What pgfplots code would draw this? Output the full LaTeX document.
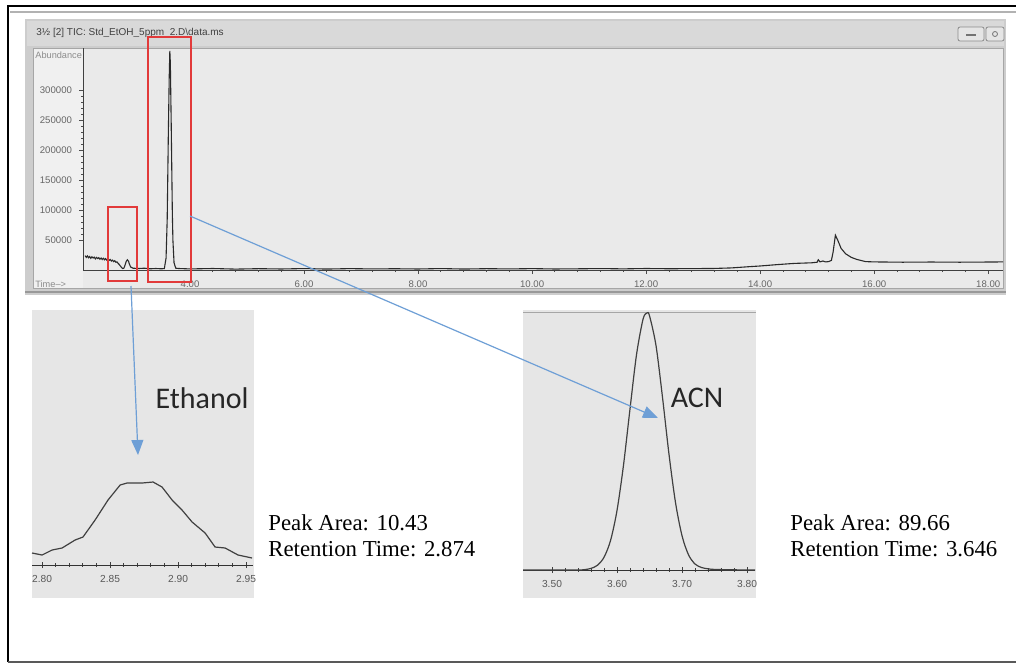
\documentclass[border=0pt]{standalone}
\usepackage{fontspec}
\setmainfont{Liberation Serif}
\setsansfont{Liberation Sans}
\newfontfamily\calibri{Carlito}
\usepackage{pgfplots}
\pgfplotsset{compat=1.18}
\usetikzlibrary{arrows.meta}

\definecolor{winframe}{HTML}{CDCDCD}
\definecolor{titlebar}{HTML}{D9D9D9}
\definecolor{labelpanel}{HTML}{F0F0F0}
\definecolor{plotpanel}{HTML}{EAEAEA}
\definecolor{insetbg}{HTML}{E6E6E6}
\definecolor{boxred}{HTML}{E23A3A}
\definecolor{arrowblue}{HTML}{6E9FD6}
\definecolor{trace}{HTML}{2A2A2A}

% main chromatogram (time in min, abundance)
\pgfplotstableread{
t y
2.16 24000
2.18 21000
2.20 23500
2.22 20500
2.24 22500
2.26 19500
2.28 22000
2.30 20000
2.32 21500
2.34 18500
2.36 21000
2.38 19000
2.40 20500
2.42 18000
2.44 20000
2.46 17500
2.48 19500
2.50 17000
2.52 19000
2.54 16500
2.56 18500
2.58 16000
2.60 17500
2.62 15000
2.64 16500
2.66 14000
2.68 15500
2.70 13000
2.72 13500
2.74 11000
2.76 9000
2.78 6500
2.80 4000
2.82 2500
2.84 3000
2.86 8000
2.88 14000
2.90 17000
2.92 15000
2.94 9000
2.96 5000
3.00 3000
3.10 2500
3.20 3000
3.30 2000
3.40 2500
3.50 2000
3.55 2500
3.58 20000
3.60 85000
3.62 228000
3.635 320000
3.646 365000
3.655 345000
3.67 245000
3.69 95000
3.70 50000
3.72 12000
3.75 3000
3.80 2500
4.0 1800
4.4 2500
4.8 1500
5.2 2200
5.6 1700
6.0 2400
6.4 1600
6.8 2300
7.2 1800
7.6 2100
8.0 1700
8.4 2400
8.8 1600
9.2 2200
9.6 1800
10.0 2300
10.4 1700
10.8 2000
11.2 2400
11.6 1900
12.0 2500
12.4 2100
12.8 2300
13.2 2600
13.5 3500
13.8 5500
14.0 6700
14.3 9000
14.6 11000
14.9 12000
15.0 13000
15.02 17000
15.05 13500
15.10 15000
15.15 13500
15.20 14000
15.25 16000
15.28 30000
15.32 58000
15.36 50000
15.42 36000
15.50 27000
15.60 21000
15.70 17500
15.85 14000
16.0 13500
16.5 13000
17.0 13300
17.5 13000
18.0 13300
18.26 13500
}\tic

% ethanol peak (zoom)
\pgfplotstableread{
t y
2.7926 12
2.8000 10
2.8074 15
2.8147 17
2.8243 25
2.8301 28
2.8390 45
2.8485 65
2.8574 80
2.8625 82
2.8735 82
2.8816 83
2.8882 78
2.8956 65
2.9029 55
2.9103 43
2.9199 32
2.9272 18
2.9346 17
2.9441 10
2.9544 7
}\ethanol

% ACN peak (zoom)
\pgfplotstableread{
t y
3.4554 0
3.50 0
3.54 0
3.55 0.4
3.56 1.6
3.57 4.8
3.58 12.7
3.59 29.4
3.60 59.5
3.61 104.9
3.62 161.1
3.63 215.3
3.64 250.7
3.646 257
3.65 254.2
3.66 224.4
3.67 172.6
3.68 115.6
3.69 67.4
3.70 34.3
3.71 15.2
3.72 6.0
3.73 2.5
3.74 1.2
3.75 0.6
3.78 0.2
3.8123 0
}\acn

\pgfplotsset{
  inset/.style={
    anchor=south west, scale only axis,
    ymin=0,
    axis x line*=bottom, axis y line=none,
    axis line style={draw=black!80, line width=0.5pt},
    minor x tick num=4,
    tick align=center, major tick length=3pt, minor tick length=1.6pt,
    tick style={black!75, line width=0.4pt},
    xticklabel style={font=\sffamily\fontsize{5.1}{6}\selectfont, text=black!65},
    clip=false,
  }
}

\begin{document}
\begin{tikzpicture}
\begin{scope}[x=0.5pt,y=-0.5pt]
\useasboundingbox (0,0) rectangle (1016,665);
\fill[white] (0,0) rectangle (1016,665);
% outer frame
\draw[line width=0.6pt, black!30] (10,12) -- (1016,12);
\draw[line width=1.1pt, black] (8,662) -- (8,6) -- (1016,6);
\draw[line width=1.1pt, black!65] (8,662) -- (1016,662);
% window
\fill[winframe] (25,19) rectangle (1006,295);
\fill[titlebar] (27,21) rectangle (1004,46);
\fill[labelpanel] (33,48) rectangle (83,288);
\fill[plotpanel] (83,48) rectangle (1003,288);
\draw[black!35, line width=0.4pt] (33,48) rectangle (1003,288);
\draw[black!40, line width=0.6pt] (25,292) -- (1006,292);
% window buttons
\draw[black!45, fill=black!10, rounded corners=1pt] (958,27) rectangle (984,41);
\draw[black!55, line width=0.6pt] (966,35) -- (976,35);
\draw[black!45, fill=black!10, rounded corners=1pt] (986,27) rectangle (1004,41);
\draw[black!55] (995,34) circle (2.5);
\node[anchor=west, inner sep=0, text=black!75, font=\sffamily\fontsize{5}{6}\selectfont] at (36,33)
  {3½ [2] TIC: Std\_EtOH\_5ppm\_2.D\textbackslash data.ms};
\node[anchor=west, inner sep=0, text=black!45, font=\sffamily\fontsize{4.6}{5}\selectfont] at (35,55) {Abundance};
\node[anchor=west, inner sep=0, text=black!45, font=\sffamily\fontsize{4.6}{5}\selectfont] at (35,284) {Time-->};
% inset backgrounds
\fill[insetbg] (32,310) rectangle (254,598);
\fill[insetbg] (523,310) rectangle (756,598);
\draw[black!35, line width=0.5pt] (523,312) -- (756,312);
\end{scope}

% main chromatogram
\begin{axis}[
  at={(41.5pt,-135pt)}, anchor=south west,
  scale only axis, width=460pt, height=111pt,
  xmin=2.123, xmax=18.26, ymin=0, ymax=370000,
  axis x line*=bottom, axis y line*=left,
  axis line style={draw=black!75, line width=0.4pt},
  xtick={4,6,8,10,12,14,16,18},
  xticklabels={4.00,6.00,8.00,10.00,12.00,14.00,16.00,18.00},
  minor x tick num=4,
  ytick={50000,100000,150000,200000,250000,300000},
  yticklabels={50000,100000,150000,200000,250000,300000},
  minor y tick num=4,
  scaled y ticks=false,
  tick align=outside, major tick length=2pt, minor tick length=1pt,
  tick style={black!70, line width=0.4pt},
  ticklabel style={font=\sffamily\fontsize{4.8}{5}\selectfont, text=black!60},
  clip=false,
]
\addplot[trace, line width=0.55pt] table[x=t, y=y] {\tic};
\end{axis}

% ethanol inset
\begin{axis}[inset,
  at={(16pt,-282.5pt)}, width=110.5pt, height=127.5pt,
  xmin=2.7926, xmax=2.9551, ymax=255,
  xtick={2.80,2.85,2.90,2.95}, xticklabels={2.80,2.85,2.90,2.95},
]
\addplot[black!75, line width=0.6pt] table[x=t, y=y] {\ethanol};
\end{axis}

% ACN inset
\begin{axis}[inset,
  at={(261.5pt,-285pt)}, width=116pt, height=130pt,
  xmin=3.4554, xmax=3.8123, ymax=260,
  xtick={3.50,3.60,3.70,3.80}, xticklabels={3.50,3.60,3.70,3.80},
]
\addplot[black!75, line width=0.6pt, smooth] table[x=t, y=y] {\acn};
\end{axis}

\begin{scope}[x=0.5pt,y=-0.5pt]
% boxes on the chromatogram
\draw[boxred, line width=0.75pt] (108,207) rectangle (137,281);
\draw[boxred, line width=0.75pt] (148,37) rectangle (191,282);
% arrows to the zoomed peaks
\draw[arrowblue, line width=0.6pt, -{Triangle[length=7.5pt,width=6pt]}] (131,286) -- (138,455);
\draw[arrowblue, line width=0.6pt, -{Triangle[length=7.5pt,width=6pt]}] (190,216) -- (658,418);
% labels
\node[font=\calibri\fontsize{15}{18}\selectfont, text=black!85] at (202,398) {Ethanol};
\node[font=\calibri\fontsize{15}{18}\selectfont, text=black!85] at (697,398) {ACN};
\node[anchor=west, inner sep=0, font=\fontsize{11.4}{13}\selectfont] at (268,523) {Peak Area: 10.43};
\node[anchor=west, inner sep=0, font=\fontsize{11.4}{13}\selectfont] at (268,549) {Retention Time: 2.874};
\node[anchor=west, inner sep=0, font=\fontsize{11.4}{13}\selectfont] at (790,523) {Peak Area: 89.66};
\node[anchor=west, inner sep=0, font=\fontsize{11.4}{13}\selectfont] at (790,549) {Retention Time: 3.646};
\end{scope}
\end{tikzpicture}
\end{document}
